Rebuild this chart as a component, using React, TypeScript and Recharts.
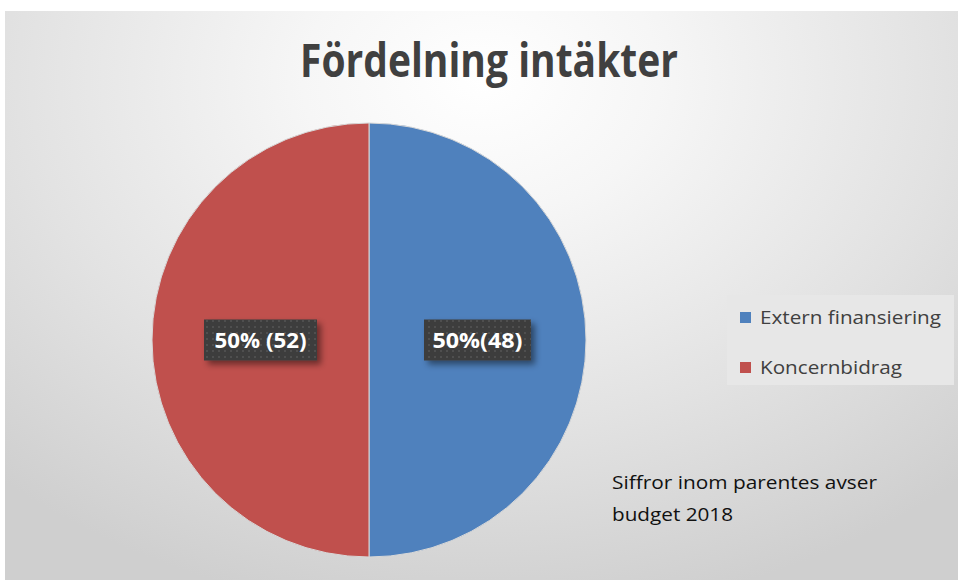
import React from 'react';
import { PieChart, Pie, Cell, Legend } from 'recharts';

const categories = ['Extern finansiering', 'Koncernbidrag'];
const shares = [50, 50];
const sliceLabels = ['50%(48)', '50% (52)'];
const colors = ['#4f81bd', '#c0504d'];
const title = 'Fördelning intäkter';
const noteLines = ['Siffror inom parentes avser', 'budget 2018'];

const data = categories.map((name, i) => ({ name, value: shares[i], label: sliceLabels[i] }));

const FONT = '"Open Sans", "Noto Sans", sans-serif';
const RADIAN = Math.PI / 180;

function SliceLabel(props: any) {
  const { cx, cy, midAngle, outerRadius, index } = props;
  const r = outerRadius * 0.5;
  const x = cx + r * Math.cos(-midAngle * RADIAN);
  const y = cy + r * Math.sin(-midAngle * RADIAN);
  const text = sliceLabels[index];
  const w = text.includes(' ') ? 113 : 107;
  const h = 41;
  return (
    <g>
      <defs>
        <pattern id={`dots${index}`} width="6" height="6" patternUnits="userSpaceOnUse">
          <rect width="6" height="6" fill="#3d3d3d" />
          <circle cx="3" cy="3" r="0.9" fill="#575757" />
        </pattern>
        <filter id={`shadow${index}`} x="-20%" y="-30%" width="150%" height="180%">
          <feDropShadow dx="4" dy="4" stdDeviation="3" floodColor="#000" floodOpacity="0.45" />
        </filter>
      </defs>
      <rect
        x={x - w / 2}
        y={y - h / 2}
        width={w}
        height={h}
        fill={`url(#dots${index})`}
        filter={`url(#shadow${index})`}
      />
      <text
        x={x}
        y={y + 8}
        textAnchor="middle"
        fill="#ffffff"
        fontFamily={FONT}
        fontWeight={700}
        fontSize={21}
        textLength={text.includes(' ') ? 92 : 90}
        lengthAdjust="spacingAndGlyphs"
      >
        {text}
      </text>
    </g>
  );
}

function LegendBox() {
  return (
    <svg width={227} height={90}>
      <rect x={0} y={0} width={227} height={90} fill="#e7e7e7" />
      {categories.map((c, i) => (
        <g key={c}>
          <rect x={13} y={17 + i * 50} width={11} height={11} fill={colors[i]} />
          <text
            x={33}
            y={29 + i * 50}
            fill="#404040"
            fontFamily={FONT}
            fontSize={19}
            textLength={i === 0 ? 181 : 142}
            lengthAdjust="spacingAndGlyphs"
          >
            {c}
          </text>
        </g>
      ))}
    </svg>
  );
}

export default function App() {
  return (
    <div style={{ position: 'absolute', left: 0, top: 0, width: 958, height: 580, background: '#ffffff' }}>
      <div
        style={{
          position: 'absolute',
          left: 5,
          top: 11,
          width: 953,
          height: 569,
          background:
            'radial-gradient(ellipse 75% 95% at 50% 12%, #ffffff 0%, #f6f6f6 25%, #e2e2e2 65%, #cfcfcf 100%)',
        }}
      />
      <div style={{ position: 'absolute', left: 0, top: 0 }}>
        <PieChart width={958} height={580} margin={{ top: 0, right: 0, bottom: 0, left: 0 }}>
          <Pie
            data={data}
            dataKey="value"
            nameKey="name"
            cx={369}
            cy={340}
            outerRadius={217}
            startAngle={90}
            endAngle={-270}
            stroke="#d8d8d8"
            strokeWidth={1}
            labelLine={false}
            label={SliceLabel}
            isAnimationActive={false}
          >
            {data.map((d, i) => (
              <Cell key={d.name} fill={colors[i]} />
            ))}
          </Pie>
          <Legend
            content={() => <LegendBox />}
            wrapperStyle={{ position: 'absolute', left: 727, top: 295, width: 227, height: 90 }}
          />
        </PieChart>
      </div>
      <svg
        width={958}
        height={580}
        style={{ position: 'absolute', left: 0, top: 0, pointerEvents: 'none' }}
      >
        <text
          x={489}
          y={77}
          textAnchor="middle"
          fill="#404040"
          fontFamily={FONT}
          fontWeight={700}
          fontSize={47}
          textLength={378}
          lengthAdjust="spacingAndGlyphs"
        >
          {title}
        </text>
        {noteLines.map((line, i) => (
          <text
            key={line}
            x={612}
            y={489 + i * 32}
            fill="#111111"
            fontFamily={FONT}
            fontSize={19}
            textLength={i === 0 ? 265 : 121}
            lengthAdjust="spacingAndGlyphs"
          >
            {line}
          </text>
        ))}
      </svg>
    </div>
  );
}
